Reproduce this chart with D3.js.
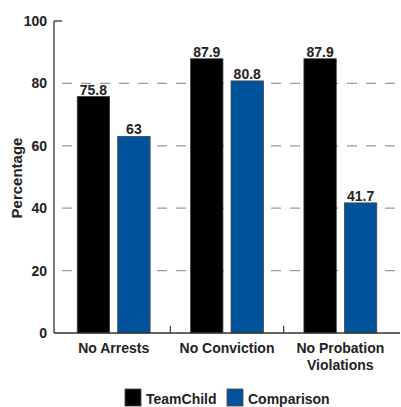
<!DOCTYPE html>
<html>
<head>
<meta charset="utf-8">
<script src="https://cdn.jsdelivr.net/npm/d3@7"></script>
<style>
  body { margin: 0; background: #fff; }
  text { font-family: "Liberation Sans", Arial, sans-serif; font-weight: bold; fill: #222; }
</style>
</head>
<body>
<div id="chart"></div>
<script>
const categories = [["No Arrests"], ["No Conviction"], ["No Probation", "Violations"]];
const series = ["TeamChild", "Comparison"];
const teamChild = [75.8, 87.9, 87.9];
const comparison = [63, 80.8, 41.7];
const valueLabels = [["75.8", "63"], ["87.9", "80.8"], ["87.9", "41.7"]];
const yTicks = [0, 20, 40, 60, 80, 100];
const colors = ["#000000", "#00529b"];

const W = 401, H = 407;
const margin = { top: 21, right: 4, bottom: 74, left: 54 };
const height = H - margin.top - margin.bottom;

const svg = d3.select("#chart").append("svg")
    .attr("width", W)
    .attr("height", H);

const y = d3.scaleLinear().domain([0, 100]).range([margin.top + height, margin.top]);
const x = d3.scaleBand().domain(d3.range(categories.length)).range([57, 397]);
const xs = d3.scaleBand().domain(series).range([0, x.bandwidth()]).paddingInner(0.2).paddingOuter(0.5);

// dashed grid
svg.append("g").selectAll("line")
    .data(yTicks.filter(d => d > 0 && d < 100))
    .join("line")
    .attr("x1", 62).attr("x2", 396)
    .attr("y1", d => y(d)).attr("y2", d => y(d))
    .attr("stroke", "#999")
    .attr("stroke-width", 1.2)
    .attr("stroke-dasharray", "10,9");

// y axis
const yAxis = svg.append("g")
    .attr("transform", `translate(${margin.left},0)`)
    .call(d3.axisLeft(y).tickValues(yTicks).tickSize(0).tickPadding(7));
yAxis.select(".domain").remove();
yAxis.selectAll("text").style("font-size", "14px").style("font-family", null).attr("fill", null);
svg.append("line")
    .attr("x1", margin.left).attr("x2", margin.left)
    .attr("y1", y(100)).attr("y2", y(0))
    .attr("stroke", "#333").attr("stroke-width", 1.3);
svg.append("line")
    .attr("x1", margin.left).attr("x2", 62)
    .attr("y1", y(100)).attr("y2", y(100))
    .attr("stroke", "#333").attr("stroke-width", 1.3);

// bars
const rows = categories.map((c, i) => ({ i, vals: [teamChild[i], comparison[i]] }));
const groups = svg.append("g").selectAll("g")
    .data(rows)
    .join("g")
    .attr("transform", d => `translate(${x(d.i)},0)`);

groups.selectAll("rect")
    .data(d => d.vals.map((v, k) => ({ v, k, s: series[k] })))
    .join("rect")
    .attr("x", d => xs(d.s))
    .attr("width", xs.bandwidth())
    .attr("y", d => y(d.v))
    .attr("height", d => y(0) - y(d.v))
    .attr("fill", d => colors[d.k])
    .attr("stroke", "#444")
    .attr("stroke-width", 0.8);

groups.selectAll("text.val")
    .data(d => d.vals.map((v, k) => ({ v, k, s: series[k], label: valueLabels[d.i][k] })))
    .join("text")
    .attr("class", "val")
    .attr("x", d => xs(d.s) + xs.bandwidth() / 2)
    .attr("y", d => y(d.v) - 2)
    .attr("text-anchor", "middle")
    .style("font-size", "14px")
    .text(d => d.label);

// x axis
svg.append("line")
    .attr("x1", margin.left).attr("x2", 400)
    .attr("y1", y(0)).attr("y2", y(0))
    .attr("stroke", "#333").attr("stroke-width", 1.3);
svg.append("g").selectAll("line")
    .data(d3.range(1, categories.length))
    .join("line")
    .attr("x1", d => x(d)).attr("x2", d => x(d))
    .attr("y1", y(0) - 7).attr("y2", y(0))
    .attr("stroke", "#333").attr("stroke-width", 1.2);

svg.append("g").selectAll("text")
    .data(categories)
    .join("text")
    .attr("x", (d, i) => x(i) + x.bandwidth() / 2)
    .attr("y", y(0) + 20)
    .attr("text-anchor", "middle")
    .style("font-size", "14px")
    .selectAll("tspan")
    .data(d => d)
    .join("tspan")
    .attr("x", function () { return d3.select(this.parentNode).attr("x"); })
    .attr("dy", (d, j) => j === 0 ? 0 : 17)
    .text(d => d);

// y label
svg.append("text")
    .attr("transform", `translate(22,${y(50) + 1}) rotate(-90)`)
    .attr("text-anchor", "middle")
    .style("font-size", "15px")
    .text("Percentage");

// legend
const legendX = [125, 227];
const legend = svg.append("g").selectAll("g")
    .data(series)
    .join("g")
    .attr("transform", (d, i) => `translate(${legendX[i]},389)`);
legend.append("rect")
    .attr("width", 16).attr("height", 17)
    .attr("fill", (d, i) => colors[i])
    .attr("stroke", "#444").attr("stroke-width", 0.8);
legend.append("text")
    .attr("x", 21).attr("y", 15)
    .style("font-size", "14px")
    .text(d => d);
</script>
</body>
</html>
